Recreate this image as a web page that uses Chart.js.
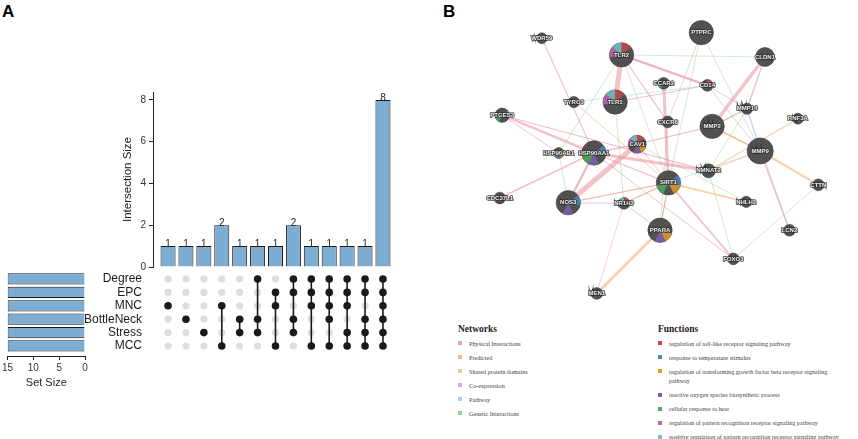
<!DOCTYPE html>
<html>
<head>
<meta charset="utf-8">
<script src="https://cdn.jsdelivr.net/npm/chart.js@4.4.0/dist/chart.umd.min.js"></script>
<style>
  body { margin: 0; background: #fff; width: 858px; height: 439px; position: relative; overflow: hidden;
         font-family: "Liberation Sans", Arial, sans-serif; }
  .box { position: absolute; }
  .panel { position: absolute; font-weight: bold; font-size: 17px; line-height: 17px; color: #000; }
  .legend { position: absolute; font-family: "Liberation Serif", "DejaVu Serif", serif; color: #444; }
  .legend h4 { margin: 0 0 3.6px 0; font-size: 9.5px; line-height: 12px; color: #222; }
  .legend .item { position: relative; padding-left: 11px; font-size: 6.2px; line-height: 9.4px; margin-bottom: 4.6px; }
  .legend .sw { position: absolute; left: 0; top: 2.7px; width: 4px; height: 4px; }
</style>
</head>
<body>
<div class="panel" style="left:2px;top:3px">A</div>
<div class="panel" style="left:443px;top:3px">B</div>

<div class="box" style="left:80px;top:80px"><canvas id="barChart" width="330" height="197"></canvas></div>
<div class="box" style="left:80px;top:260px"><canvas id="matrixChart" width="330" height="105"></canvas></div>
<div class="box" style="left:0px;top:268px"><canvas id="setChart" width="100" height="125"></canvas></div>
<div class="box" style="left:430px;top:0px"><canvas id="netChart" width="428" height="320"></canvas></div>

<div class="legend" id="netLegend" style="left:458px;top:323px;width:180px"><h4>Networks</h4></div>
<div class="legend" id="funLegend" style="left:658px;top:323px;width:190px"><h4>Functions</h4></div>

<script>
// ---- panel A: upset data ----
const setNames = ['Degree', 'EPC', 'MNC', 'BottleNeck', 'Stress', 'MCC'];
const setSizes = [15, 15, 15, 15, 15, 15];
const intersectionSizes = [1, 1, 1, 2, 1, 1, 1, 2, 1, 1, 1, 1, 8];
const intersectionMembers = [
    ['MNC'], ['BottleNeck'], ['Stress'], ['MNC', 'MCC'], ['BottleNeck', 'Stress'],
    ['Degree', 'BottleNeck', 'Stress'], ['EPC', 'MNC', 'MCC'], ['Degree', 'EPC', 'BottleNeck', 'Stress'],
    ['Degree', 'EPC', 'MNC', 'MCC'], ['Degree', 'EPC', 'MNC', 'BottleNeck', 'MCC'],
    ['Degree', 'EPC', 'MNC', 'Stress', 'MCC'], ['Degree', 'EPC', 'BottleNeck', 'Stress', 'MCC'],
    ['Degree', 'EPC', 'MNC', 'BottleNeck', 'Stress', 'MCC']
];

// ---- panel B: network data ----
const genes = ['WDR59', 'PTPRC', 'TLR2', 'CLDN1', 'CCAR2', 'CD14', 'TLR1', 'TYRO3', 'MMP14', 'PTGES3',
    'CXCR6', 'MMP2', 'RNF3A', 'CAV1', 'MMP9', 'HSP90AB1', 'HSP90AA1', 'NMNAT2', 'SIRT1', 'CTTN',
    'CDC37L1', 'NOS3', 'NR1H3', 'NHLH2', 'PPARA', 'LCN2', 'FOXO3', 'MEN1'];
const geneX = [24.5, 64.3, 44.4, 80.2, 54.9, 65.8, 42.8, 32.5, 75.7, 14.6,
    55.9, 67.0, 88.4, 48.3, 79.0, 28.7, 37.5, 66.1, 56.1, 93.5,
    14.0, 31.1, 45.0, 75.5, 54.0, 86.3, 72.3, 38.2];
const geneY = [8.4, 6.5, 14.1, 14.8, 23.8, 24.5, 30.2, 30.2, 32.5, 34.7,
    37.0, 38.5, 35.9, 44.6, 46.9, 47.6, 47.6, 53.7, 57.8, 58.5,
    63.0, 64.6, 64.8, 64.3, 74.0, 74.0, 83.8, 95.6];
const geneScore = [0.1, 0.85, 0.85, 0.55, 0.15, 0.15, 0.85, 0.12, 0.12, 0.3,
    0.15, 0.85, 0.1, 0.5, 0.95, 0.1, 0.85, 0.28, 0.85, 0.15,
    0.15, 0.85, 0.15, 0.12, 0.85, 0.15, 0.15, 0.15];
// function indices per gene (pie slices)
const geneFunctions = [[], [], [0, 5, 6], [], [4], [0, 5], [0, 5, 6], [], [], [1, 4],
    [], [], [], [0, 2, 3, 5, 6], [], [1, 2, 3, 4], [1, 3, 4], [], [1, 2, 4], [],
    [], [1, 3], [0, 6], [], [2, 3], [], [], []];

// edges: from, to, network type (P R D C W G), weight
const edges = [
    ['TLR2', 'TLR1', 'P', 5], ['TLR2', 'CD14', 'P', 2.5], ['TLR2', 'CD14', 'C', 1], ['TLR2', 'CXCR6', 'P', 1.2],
    ['TLR1', 'CD14', 'P', 1], ['CCAR2', 'SIRT1', 'P', 3], ['CLDN1', 'MMP2', 'P', 3.5], ['CLDN1', 'MMP14', 'P', 1.5],
    ['PTGES3', 'HSP90AA1', 'P', 2.5], ['PTGES3', 'HSP90AB1', 'P', 1], ['PTGES3', 'NMNAT2', 'P', 1.2],
    ['HSP90AA1', 'NMNAT2', 'P', 3], ['HSP90AA1', 'SIRT1', 'P', 1.2], ['HSP90AA1', 'CAV1', 'P', 1.5],
    ['HSP90AA1', 'NOS3', 'P', 2.5], ['HSP90AA1', 'HSP90AB1', 'P', 1.2], ['WDR59', 'HSP90AA1', 'P', 1.2],
    ['CDC37L1', 'HSP90AA1', 'P', 1.8], ['NOS3', 'CAV1', 'P', 5], ['NOS3', 'SIRT1', 'P', 1], ['NOS3', 'NR1H3', 'P', 1],
    ['CAV1', 'MMP2', 'P', 1.2], ['CAV1', 'SIRT1', 'P', 1], ['SIRT1', 'FOXO3', 'P', 1.8], ['SIRT1', 'PPARA', 'P', 1],
    ['SIRT1', 'NR1H3', 'P', 1], ['HSP90AA1', 'FOXO3', 'P', 1], ['NR1H3', 'MEN1', 'P', 0.8], ['NR1H3', 'PPARA', 'P', 1],
    ['MMP9', 'LCN2', 'P', 1.5], ['MMP2', 'MMP14', 'P', 1.2], ['PTPRC', 'CXCR6', 'P', 0.8],
    ['PPARA', 'MEN1', 'R', 3], ['MMP9', 'CTTN', 'R', 2.2], ['MMP2', 'MMP9', 'R', 1.8], ['SIRT1', 'NHLH2', 'R', 1.8],
    ['TYRO3', 'SIRT1', 'R', 1], ['RNF3A', 'NMNAT2', 'R', 1.2], ['NR1H3', 'SIRT1', 'R', 1], ['SIRT1', 'PPARA', 'R', 1],
    ['MMP9', 'NMNAT2', 'R', 1], ['SIRT1', 'NOS3', 'R', 0.8],
    ['MMP2', 'MMP9', 'D', 1], ['MMP2', 'MMP14', 'D', 1],
    ['TLR2', 'CLDN1', 'G', 0.8], ['TLR2', 'HSP90AB1', 'G', 0.8], ['TLR2', 'SIRT1', 'G', 0.8], ['PTPRC', 'SIRT1', 'G', 0.8],
    ['PTPRC', 'MMP9', 'G', 0.8], ['CTTN', 'FOXO3', 'G', 0.8], ['CAV1', 'NHLH2', 'G', 0.8], ['CXCR6', 'PPARA', 'G', 0.8],
    ['NMNAT2', 'FOXO3', 'G', 0.8], ['MMP14', 'NMNAT2', 'G', 0.8], ['TLR1', 'NR1H3', 'G', 0.8],
    ['CD14', 'MMP9', 'C', 1], ['CD14', 'MMP14', 'C', 1], ['MMP14', 'MMP9', 'C', 1], ['MMP14', 'LCN2', 'C', 0.8],
    ['TYRO3', 'CD14', 'W', 0.8], ['HSP90AB1', 'NOS3', 'W', 0.8], ['SIRT1', 'MMP9', 'W', 0.8], ['HSP90AA1', 'NOS3', 'W', 0.8]
];

const networkTypes = ['Physical Interactions', 'Predicted', 'Shared protein domains', 'Co-expression', 'Pathway', 'Genetic Interactions'];
const networkCodes = ['P', 'R', 'D', 'C', 'W', 'G'];
const networkColors = ['#e8a3a6', '#f4b97f', '#e0ce98', '#d4b0d9', '#9ed8e0', '#95cc8f'];
const edgeColors = ['rgba(232,135,148,0.5)', 'rgba(244,170,100,0.55)', 'rgba(215,195,130,0.5)',
    'rgba(195,160,215,0.5)', 'rgba(120,200,215,0.5)', 'rgba(140,200,140,0.5)'];

const functionNames = [
    'regulation of toll-like receptor signaling pathway',
    'response to temperature stimulus',
    'regulation of transforming growth factor beta receptor signaling pathway',
    'reactive oxygen species biosynthetic process',
    'cellular response to heat',
    'regulation of pattern recognition receptor signaling pathway',
    'positive regulation of pattern recognition receptor signaling pathway'
];
const functionColors = ['#c4474d', '#4c87bd', '#e39b2b', '#7a60ac', '#50a85b', '#c064b5', '#79c2bf'];

Chart.defaults.font.family = '"Liberation Sans", Arial, sans-serif';
Chart.defaults.animation = false;
Chart.defaults.events = [];
Chart.defaults.plugins.legend.display = false;
Chart.defaults.plugins.tooltip.enabled = false;

const barBlue = '#7dadd3';
const xMin = -0.84, xMax = 12.84;

// intersection size bars
const barLabels = {
    id: 'barLabels',
    afterDatasetsDraw(chart) {
        const ctx = chart.ctx;
        const meta = chart.getDatasetMeta(0);
        ctx.save();
        ctx.font = '10px "Liberation Sans"';
        ctx.fillStyle = '#222';
        ctx.textAlign = 'center';
        ctx.textBaseline = 'alphabetic';
        meta.data.forEach((bar, i) => ctx.fillText(intersectionSizes[i], bar.x, bar.y + 1));
        ctx.restore();
    }
};

new Chart(document.getElementById('barChart'), {
    type: 'bar',
    data: {
        datasets: [{
            data: intersectionSizes.map((v, i) => ({ x: i, y: v })),
            backgroundColor: barBlue,
            borderColor: '#1a1a1a',
            borderWidth: 1,
            barPercentage: 0.84,
            categoryPercentage: 1
        }]
    },
    options: {
        responsive: false,
        layout: { padding: { top: 12, right: 12, bottom: 10, left: 0 } },
        scales: {
            x: { type: 'linear', min: xMin, max: xMax, offset: false, display: false },
            y: {
                min: 0, max: 8.38,
                ticks: { stepSize: 2, includeBounds: false, color: '#333', font: { size: 10 }, padding: 3 },
                grid: { display: true, drawOnChartArea: false, tickLength: 4, color: '#222' },
                border: { display: true, color: '#222', width: 1 },
                title: { display: true, text: 'Intersection Size', color: '#222', font: { size: 11.5 }, padding: { top: 41, bottom: 0 } },
                afterFit: s => { s.width = 73; }
            }
        }
    },
    plugins: [barLabels]
});

// membership matrix
const memberDots = [], emptyDots = [], links = [];
intersectionMembers.forEach((members, c) => {
    setNames.forEach(name => {
        (members.includes(name) ? memberDots : emptyDots).push({ x: c, y: name });
    });
    if (members.length > 1) {
        const idx = members.map(m => setNames.indexOf(m));
        links.push({
            data: [{ x: c, y: setNames[Math.min(...idx)] }, { x: c, y: setNames[Math.max(...idx)] }],
            showLine: true, borderColor: '#1a1a1a', borderWidth: 1.6, pointRadius: 0
        });
    }
});

new Chart(document.getElementById('matrixChart'), {
    type: 'scatter',
    data: {
        datasets: [
            { data: memberDots, pointRadius: 3.8, pointBackgroundColor: '#1a1a1a', pointBorderWidth: 0 },
            ...links,
            { data: emptyDots, pointRadius: 3.6, pointBackgroundColor: '#dedede', pointBorderWidth: 0 }
        ]
    },
    options: {
        responsive: false,
        layout: { padding: { top: 12.3, right: 12, bottom: 12.3, left: 0 } },
        scales: {
            x: { type: 'linear', min: xMin, max: xMax, display: false },
            y: {
                type: 'category', labels: setNames, offset: true,
                ticks: { color: '#1a1a1a', font: { size: 12 }, padding: 3, autoSkip: false },
                grid: { display: false },
                border: { display: false },
                afterFit: s => { s.width = 73; }
            }
        }
    }
});

// set size bars
new Chart(document.getElementById('setChart'), {
    type: 'bar',
    data: {
        datasets: [{
            data: setSizes.map((v, i) => ({ x: v, y: i })),
            backgroundColor: barBlue,
            borderColor: '#1a1a1a',
            borderWidth: 1,
            barPercentage: 0.84,
            categoryPercentage: 1
        }]
    },
    options: {
        responsive: false,
        indexAxis: 'y',
        layout: { padding: { top: 4.3, right: 15, bottom: 0, left: 5 } },
        scales: {
            y: { type: 'linear', min: -0.5, max: 5.75, reverse: true, offset: false, display: false },
            x: {
                min: 0, max: 15, reverse: true,
                ticks: { stepSize: 5, color: '#333', font: { size: 10 }, padding: 2, maxRotation: 0 },
                grid: { display: true, drawOnChartArea: false, tickLength: 4, color: '#222' },
                border: { display: true, color: '#222', width: 1 },
                title: { display: true, text: 'Set Size', color: '#222', font: { size: 11 }, padding: { top: 2, bottom: 3.5 } },
                afterFit: s => { s.height = 37; }
            }
        }
    }
});

// network
const netCanvas = document.getElementById('netChart');
const patCanvas = document.createElement('canvas');
patCanvas.width = 4; patCanvas.height = 4;
const pc = patCanvas.getContext('2d');
pc.fillStyle = '#545454'; pc.fillRect(0, 0, 4, 4);
pc.strokeStyle = '#474747'; pc.lineWidth = 1;
pc.beginPath(); pc.moveTo(0, 4); pc.lineTo(4, 0); pc.stroke();
const nodeFill = netCanvas.getContext('2d').createPattern(patCanvas, 'repeat');

const nodeRadius = i => 4.5 + 9 * geneScore[i];

const nodeDecor = {
    id: 'nodeDecor',
    afterDatasetsDraw(chart) {
        const ctx = chart.ctx;
        const meta = chart.getDatasetMeta(0);
        ctx.save();
        meta.data.forEach((pt, i) => {
            const r = nodeRadius(i);
            const slice = 2 * Math.PI / functionNames.length;
            geneFunctions[i].forEach(f => {
                const a0 = -Math.PI / 2 + f * slice;
                ctx.beginPath();
                ctx.moveTo(pt.x, pt.y);
                ctx.arc(pt.x, pt.y, r, a0, a0 + slice);
                ctx.closePath();
                ctx.fillStyle = functionColors[f];
                ctx.globalAlpha = 0.85;
                ctx.fill();
            });
            ctx.globalAlpha = 1;
            ctx.font = 'bold 6px "Liberation Sans"';
            ctx.textAlign = 'center';
            ctx.textBaseline = 'middle';
            ctx.lineWidth = 1.6;
            ctx.strokeStyle = 'rgba(45,45,45,0.9)';
            ctx.strokeText(genes[i], pt.x, pt.y);
            ctx.fillStyle = '#f0f0f0';
            ctx.fillText(genes[i], pt.x, pt.y);
        });
        ctx.restore();
    }
};

const edgeSets = edges.map(([a, b, t, w]) => {
    const ia = genes.indexOf(a), ib = genes.indexOf(b);
    return {
        data: [{ x: geneX[ia], y: geneY[ia] }, { x: geneX[ib], y: geneY[ib] }],
        showLine: true, pointRadius: 0,
        borderColor: edgeColors[networkCodes.indexOf(t)], borderWidth: w
    };
});

new Chart(netCanvas, {
    type: 'scatter',
    data: {
        datasets: [
            {
                data: genes.map((g, i) => ({ x: geneX[i], y: geneY[i] })),
                pointRadius: ctx => nodeRadius(ctx.dataIndex),
                pointBackgroundColor: nodeFill,
                pointBorderColor: '#3a3a3a',
                pointBorderWidth: 0.6
            },
            ...edgeSets
        ]
    },
    options: {
        responsive: false,
        layout: { padding: 0 },
        scales: {
            x: { type: 'linear', min: 0, max: 100, display: false },
            y: { type: 'linear', min: 0, max: 100, reverse: true, display: false }
        }
    },
    plugins: [nodeDecor]
});

// legends for panel B
function fillLegend(id, names, colors) {
    const box = document.getElementById(id);
    names.forEach((n, i) => {
        const item = document.createElement('div');
        item.className = 'item';
        const sw = document.createElement('span');
        sw.className = 'sw';
        sw.style.background = colors[i];
        item.appendChild(sw);
        item.appendChild(document.createTextNode(n));
        box.appendChild(item);
    });
}
fillLegend('netLegend', networkTypes, networkColors);
fillLegend('funLegend', functionNames, functionColors);
</script>
</body>
</html>
